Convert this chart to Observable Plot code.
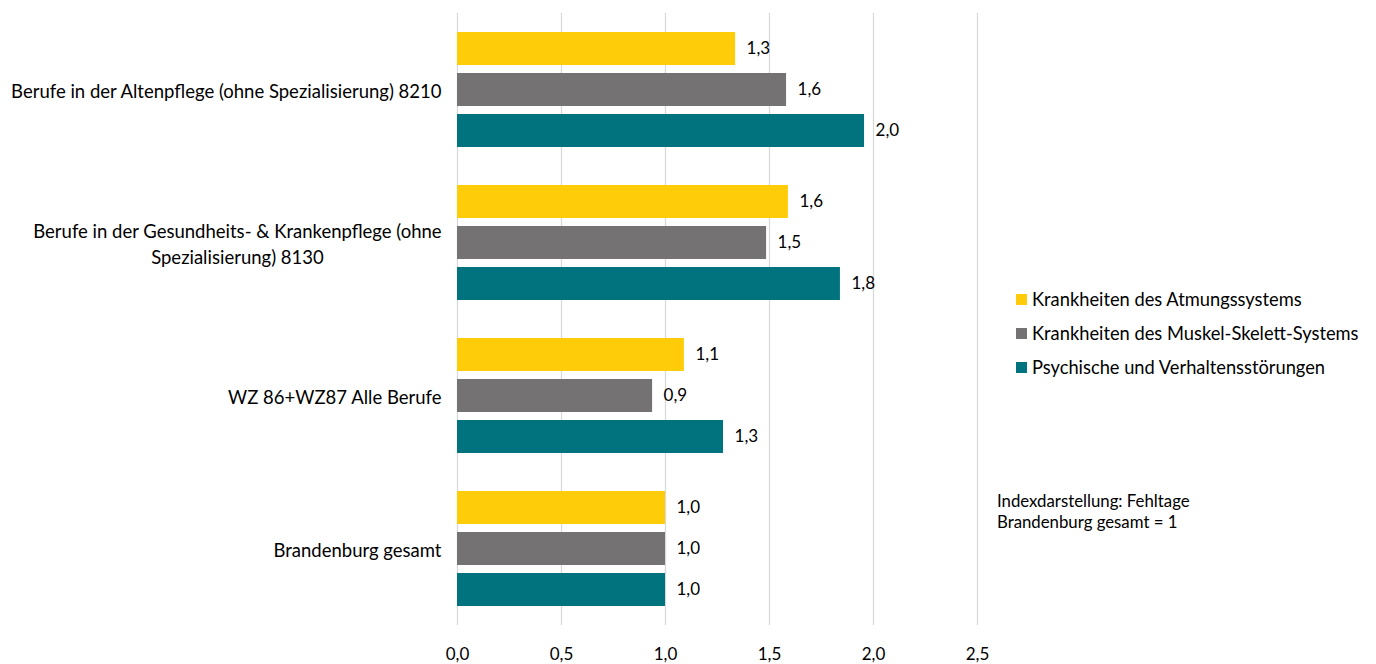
<!DOCTYPE html>
<html>
<head>
<meta charset="utf-8">
<script src="https://cdn.jsdelivr.net/npm/d3@7"></script>
<script src="https://cdn.jsdelivr.net/npm/@observablehq/plot@0.6"></script>
<style>
  html, body { margin: 0; padding: 0; background: #fff; }
  body { width: 1376px; height: 664px; position: relative; overflow: hidden; font-family: Lato, "Open Sans", sans-serif; }
  #legend { position: absolute; left: 1016px; top: 282px; font-size: 18.3px; color: #000; }
  #legend .item { display: flex; align-items: center; height: 34px; }
  #legend .sw { width: 11px; height: 11px; margin-right: 5px; }
  #note { position: absolute; left: 997px; top: 490px; font-size: 16.8px; line-height: 21px; color: #000; }
</style>
</head>
<body>
<div id="chart"></div>
<div id="legend"></div>
<div id="note">Indexdarstellung: Fehltage<br>Brandenburg gesamt = 1</div>
<script>
const categories = [
  "Berufe in der Altenpflege (ohne Spezialisierung) 8210",
  "Berufe in der Gesundheits- & Krankenpflege (ohne\nSpezialisierung) 8130",
  "WZ 86+WZ87 Alle Berufe",
  "Brandenburg gesamt"
];
const seriesNames = [
  "Krankheiten des Atmungssystems",
  "Krankheiten des Muskel-Skelett-Systems",
  "Psychische und Verhaltensstörungen"
];
const seriesColors = ["#FFCC0A", "#747272", "#00737E"];
const atmung = [1.337, 1.591, 1.091, 1.0];
const muskel = [1.582, 1.486, 0.938, 1.0];
const psyche = [1.957, 1.841, 1.279, 1.0];
const xTicks = [0, 0.5, 1, 1.5, 2, 2.5];

const seriesValues = [atmung, muskel, psyche];
const data = [];
categories.forEach((c, i) => {
  seriesNames.forEach((s, j) => {
    data.push({category: c, series: s, value: seriesValues[j][i]});
  });
});
const fmt = v => v.toFixed(1).replace(".", ",");

const plot = Plot.plot({
  width: 1376,
  height: 664,
  marginTop: 12,
  marginBottom: 39,
  marginLeft: 457,
  marginRight: 399,
  style: {fontFamily: "Lato, 'Open Sans', sans-serif", fontSize: "17px", color: "#000", background: "#fff"},
  x: {domain: [0, 2.5], ticks: xTicks, tickFormat: fmt, tickSize: 0, tickPadding: 22, label: null},
  y: {domain: seriesNames, axis: null, paddingInner: 0.19, paddingOuter: 0.42},
  fy: {domain: categories, axis: null, padding: 0},
  color: {domain: seriesNames, range: seriesColors},
  marks: [
    Plot.ruleX(xTicks, {x: d => d, stroke: "#D9D9D9", strokeWidth: 1.3}),
    Plot.barX(data, {x: "value", y: "series", fy: "category", fill: "series"}),
    Plot.text(data, {x: "value", y: "series", fy: "category", text: d => fmt(d.value), textAnchor: "start", dx: 11, fill: "#000", fontSize: 17}),
    Plot.text(categories, {fy: d => d, x: 0, text: d => d, textAnchor: "end", dx: -16, fill: "#000", fontSize: 18.5, lineHeight: 1.4})
  ]
});
document.getElementById("chart").appendChild(plot);

// center the lines of the wrapped category label (as in the reference)
d3.select(plot).selectAll("text").each(function() {
  const t = this;
  if (t.querySelectorAll("tspan").length > 1) {
    const bb = t.getBBox();
    t.setAttribute("text-anchor", "middle");
    t.querySelectorAll("tspan").forEach(ts => {
      ts.setAttribute("x", bb.x + bb.width / 2);
    });
  }
});

const legend = document.getElementById("legend");
seriesNames.forEach((s, i) => {
  const item = document.createElement("div");
  item.className = "item";
  const sw = document.createElement("div");
  sw.className = "sw";
  sw.style.background = seriesColors[i];
  const lab = document.createElement("span");
  lab.textContent = s;
  item.appendChild(sw);
  item.appendChild(lab);
  legend.appendChild(item);
});
</script>
</body>
</html>
